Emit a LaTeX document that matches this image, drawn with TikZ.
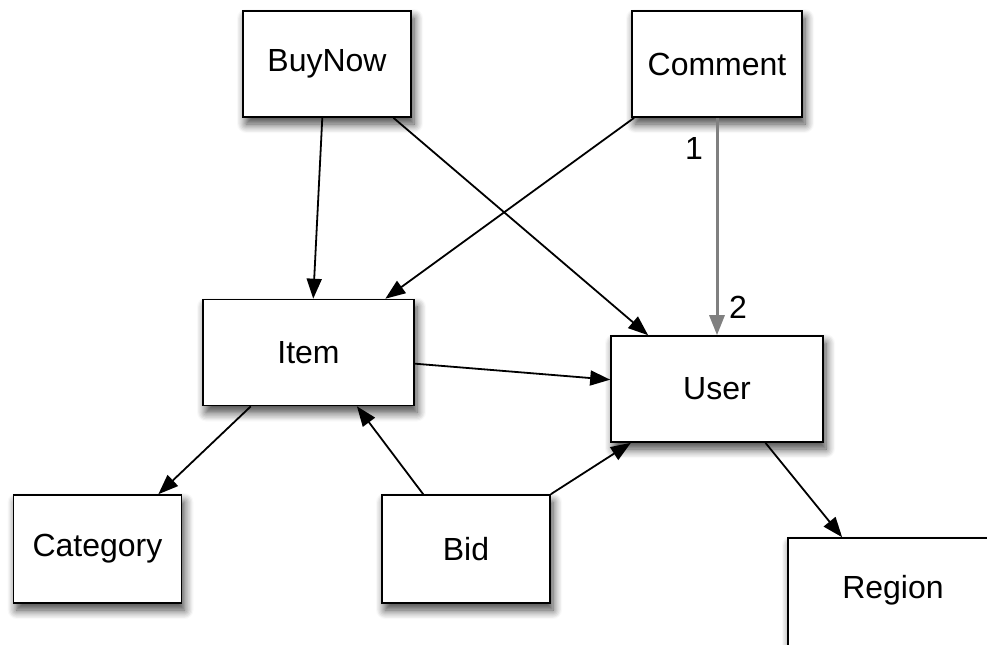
\documentclass[tikz,border=0pt]{standalone}
\usepackage{fontspec}
\setmainfont{Liberation Sans}
\usepackage{tikz}
\usetikzlibrary{arrows.meta}
\usetikzlibrary{shadows.blur}
\usetikzlibrary{positioning}
\tikzset{entity/.style = {draw, thick, fill=white, minimum width=84pt, minimum height=53pt,
    inner sep=0, font=\fontsize{16}{19}\selectfont,
    blur shadow={shadow xshift=1.5pt, shadow yshift=-3.5pt, shadow blur radius=4.5pt,
      shadow opacity=75, shadow blur steps=8}}}
\tikzset{link/.style = {line width=0.9pt, -{Triangle[length=10pt, width=7.5pt]}}}
\definecolor{mgray}{rgb}{0.5, 0.5, 0.5}

\begin{document}
\begin{tikzpicture}[x=0.5pt, y=-0.5pt]
      \useasboundingbox (0, 0) rectangle (987, 644);

      \node [entity] (buynow) at (327, 64) {BuyNow};
      \node [entity, minimum width=85pt] (comment) at (717, 64) {Comment};
      \node [entity, minimum width=105.5pt] (item) at (308.5, 352.5) {Item};
      \node [entity, minimum width=106pt] (user) at (717, 389) {User};
      \node [entity, minimum height=54pt] (category) at (97.5, 549) {Category};
      \node [entity, minimum height=54pt] (bid) at (466, 549) {Bid};
      \node [entity, minimum width=115pt, minimum height=54pt] (region) at (903, 592) {};
      \node [font=\fontsize{16}{19}\selectfont] (regiontext) at (893, 590) {Region};

      \draw [link] (buynow.265) -- (item.85);
      \draw [link] (buynow.-39) -- (user.142);
      \draw [link] (comment.213) -- (item.35);
      \draw [link, line width=1.5pt, mgray] (comment.south) -- (user.north)
        node [pos=0.14, left, black, font=\fontsize{16}{19}\selectfont, xshift=-3pt] (one) {1}
        node [pos=0.87, right, black, font=\fontsize{16}{19}\selectfont, xshift=2pt] (two) {2};
      \draw [link] (item.-6) -- (user.175);
      \draw [link] (item.223) -- (category.42);
      \draw [link] (bid.128) -- (item.-48);
      \draw [link] (bid.north east) -- (user.212);
      \draw [link] (user.-48) -- (region.138);
\end{tikzpicture}
\end{document}
